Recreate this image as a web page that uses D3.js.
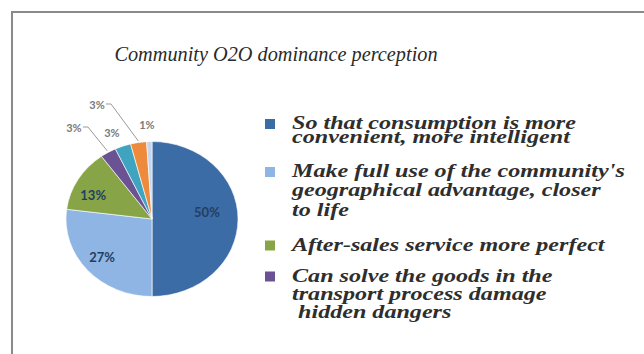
<!DOCTYPE html>
<html>
<head>
<meta charset="utf-8">
<script src="https://cdn.jsdelivr.net/npm/d3@7"></script>
<style>
  html, body { margin: 0; padding: 0; background: #fff; }
  svg { display: block; }
</style>
</head>
<body>
<svg id="chart" width="644" height="354"></svg>
<script>
// Survey shares, clockwise from twelve o'clock
const categories = [
  "So that consumption is more convenient, more intelligent",
  "Make full use of the community's geographical advantage, closer to life",
  "After-sales service more perfect",
  "Can solve the goods in the transport process damage hidden dangers",
  "Other (a)",
  "Other (b)",
  "Other (c)"
];
const values = [50, 27, 13, 3, 3, 3, 1];
const colors = ["#3c6ca6", "#8eb5e3", "#87a547", "#6b5293", "#3ea4bf", "#ee8a3c", "#c3d6ee"];
const labels = ["50%", "27%", "13%", "3%", "3%", "3%", "1%"];

// Legend entries (only the first four are listed), already broken into lines
const legendLines = [
  ["So that consumption is more", "convenient, more intelligent"],
  ["Make full use of the community's", "geographical advantage, closer", "to life"],
  ["After-sales service more perfect"],
  ["Can solve the goods in the", "transport process damage", "\u00a0hidden dangers"]
];
const title = "Community O2O dominance perception";

const svg = d3.select("#chart");

// Frame: top and left edges only
svg.append("path")
  .attr("d", "M12,354 V12 H644")
  .attr("fill", "none")
  .attr("stroke", "#8a8a8a")
  .attr("stroke-width", 2);

// Title
svg.append("text")
  .attr("x", 276).attr("y", 61)
  .attr("text-anchor", "middle")
  .attr("font-family", "'Liberation Serif', 'DejaVu Serif', serif")
  .attr("font-style", "italic")
  .attr("font-size", 20.3)
  .attr("fill", "#2a2a2a")
  .text(title);

// Pie (drawn as a slightly wide ellipse)
const SX = 1.11;
const cx = 152, cy = 219, r = 77.5;
const pie = d3.pie().sort(null).value(d => d)(values);
const arc = d3.arc().innerRadius(0).outerRadius(r);
svg.append("g")
  .attr("transform", `translate(${cx},${cy}) scale(${SX},1)`)
  .selectAll("path.slice")
  .data(pie)
  .join("path")
  .attr("class", "slice")
  .attr("d", arc)
  .attr("fill", (d, i) => colors[i])
  .attr("stroke", "#ffffff")
  .attr("stroke-width", 0.6)
  .append("title")
  .text((d, i) => `${categories[i]}: ${labels[i]}`);

// Page position at angle a (clockwise from top) and radius factor k
const at = (a, k) => [cx + SX * Math.sin(a) * r * k, cy - Math.cos(a) * r * k];
const mid = d => (d.startAngle + d.endAngle) / 2;

// Inside labels for the large slices
const inside = [
  { i: 0, k: 0.645, da: -0.14 },
  { i: 1, k: 0.76, da: 0.02 },
  { i: 2, k: 0.75, da: -0.11 }
];
svg.selectAll("text.inlab")
  .data(inside)
  .join("text")
  .attr("class", "inlab")
  .attr("x", d => at(mid(pie[d.i]) + d.da, d.k)[0])
  .attr("y", d => at(mid(pie[d.i]) + d.da, d.k)[1])
  .attr("dy", "0.35em")
  .attr("text-anchor", "middle")
  .attr("font-family", "Lato, 'Open Sans', sans-serif")
  .attr("font-weight", "bold")
  .attr("font-size", 13)
  .attr("fill", "#233e63")
  .text(d => labels[d.i]);

// Outside labels for the small slices, two of them with leader lines
const outside = [
  { i: 3, k: 1.484, da: -0.124, leader: true },
  { i: 4, k: 1.203, da: -0.052, leader: false },
  { i: 5, k: 1.604, da: -0.253, leader: true },
  { i: 6, k: 1.214, da: -0.017, leader: false }
];
outside.forEach(d => {
  const a = mid(pie[d.i]);
  const [lx, ly] = at(a + d.da, d.k);
  if (d.leader) {
    const [ex, ey] = at(a, 1.02);
    svg.append("path")
      .attr("d", `M${lx + 9},${ly - 1} L${lx + 14},${ly - 1} L${ex},${ey}`)
      .attr("fill", "none")
      .attr("stroke", "#9a9a9a")
      .attr("stroke-width", 1);
  }
  svg.append("text")
    .attr("x", lx).attr("y", ly)
    .attr("dy", "0.35em")
    .attr("text-anchor", "middle")
    .attr("font-family", "Lato, 'Open Sans', sans-serif")
    .attr("font-weight", "bold")
    .attr("font-size", 11)
    .attr("fill", "#7a7a7a")
    .text(labels[d.i]);
});

// Legend
const legendTop = [129, 177, 250.5, 281.5];
const lineGap = [13.5, 19.5, 19, 18.5];
const LSX = 1.34; // wide set legend lettering
legendLines.forEach((lines, i) => {
  svg.append("rect")
    .attr("x", 265).attr("y", legendTop[i] - 10)
    .attr("width", 10).attr("height", 10)
    .attr("fill", colors[i]);
  const t = svg.append("g")
    .attr("transform", `translate(292,${legendTop[i]}) scale(${LSX},1)`)
    .append("text")
    .attr("x", 0).attr("y", 0)
    .attr("font-family", "'Liberation Serif', 'DejaVu Serif', serif")
    .attr("font-style", "italic")
    .attr("font-weight", "bold")
    .attr("font-size", 18)
    .attr("fill", "#2e2e2e");
  lines.forEach((ln, j) => {
    t.append("tspan")
      .attr("x", 0)
      .attr("dy", j === 0 ? 0 : lineGap[i])
      .text(ln);
  });
});
</script>
</body>
</html>
